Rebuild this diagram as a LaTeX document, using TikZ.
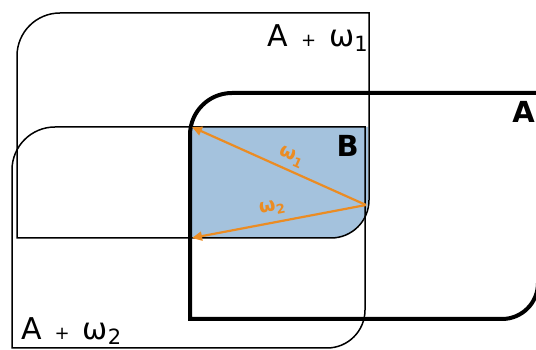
\documentclass[tikz,border=0pt]{standalone}
\usepackage{fontspec}
\setmainfont{DejaVu Sans}
\usetikzlibrary{arrows.meta}
\definecolor{bfill}{RGB}{164,194,221}
\definecolor{vec}{RGB}{235,140,35}
\newcommand{\sumlabel}[1]{\fontsize{30}{32}\selectfont A\hspace{13pt}{\fontsize{18}{18}\selectfont +}\hspace{13pt}ω\raisebox{-5pt}{\fontsize{21}{21}\selectfont #1}}
\newcommand{\veclabel}[1]{\fontsize{19}{19}\selectfont\bfseries ω\raisebox{-4pt}{\fontsize{13}{13}\selectfont #1}}
\begin{document}
\begin{tikzpicture}[x=1pt,y=1pt,
  thinline/.style={line width=1.5pt, black},
  thickline/.style={line width=4pt, black},
  vecarrow/.style={vec, line width=2.2pt, -{Triangle[length=10pt,width=9pt]}},
  vectext/.style={text=vec, inner sep=0pt},
  sumtext/.style={inner sep=0pt},
  setname/.style={inner sep=0pt, font=\fontsize{29}{30}\selectfont\bfseries}]
\useasboundingbox (0,0) rectangle (536,350);
\clip (0,0) rectangle (536,350);
% B region
\fill[bfill] (190,223) -- (368,223) -- (368,150) arc[start angle=0,end angle=-90,radius=38] -- (190,112) -- cycle;
% A + omega1
\draw[thinline] (17,112) -- (17,294) arc[start angle=180,end angle=90,radius=43] -- (369,337) -- (369,150) arc[start angle=0,end angle=-90,radius=38] -- cycle;
% A + omega2
\draw[thinline] (12,2) -- (12,180) arc[start angle=180,end angle=90,radius=43] -- (365,223) -- (365,40) arc[start angle=0,end angle=-90,radius=38] -- cycle;
% A
\draw[thickline] (190,31) -- (190,215) arc[start angle=180,end angle=90,radius=42] -- (538,257) -- (538,67) arc[start angle=0,end angle=-90,radius=36] -- cycle;
% vectors
\coordinate (P) at (366,145);
\coordinate (Q1) at (192,223);
\coordinate (Q2) at (192,112);
\draw[vecarrow] (P) -- (Q1);
\draw[vecarrow] (P) -- (Q2);
\node[vectext, rotate=-24] (w1) at (291,193) {\veclabel{1}};
\node[vectext, rotate=11] (w2) at (272,142) {\veclabel{2}};
% labels
\node[sumtext, anchor=base east] (l1) at (368,303) {\sumlabel{1}};
\node[sumtext, anchor=base west] (l2) at (21,10) {\sumlabel{2}};
\node[setname, anchor=base east] (lA) at (535,227) {A};
\node[setname, anchor=base east] (lB) at (359,193) {B};
\end{tikzpicture}
\end{document}
